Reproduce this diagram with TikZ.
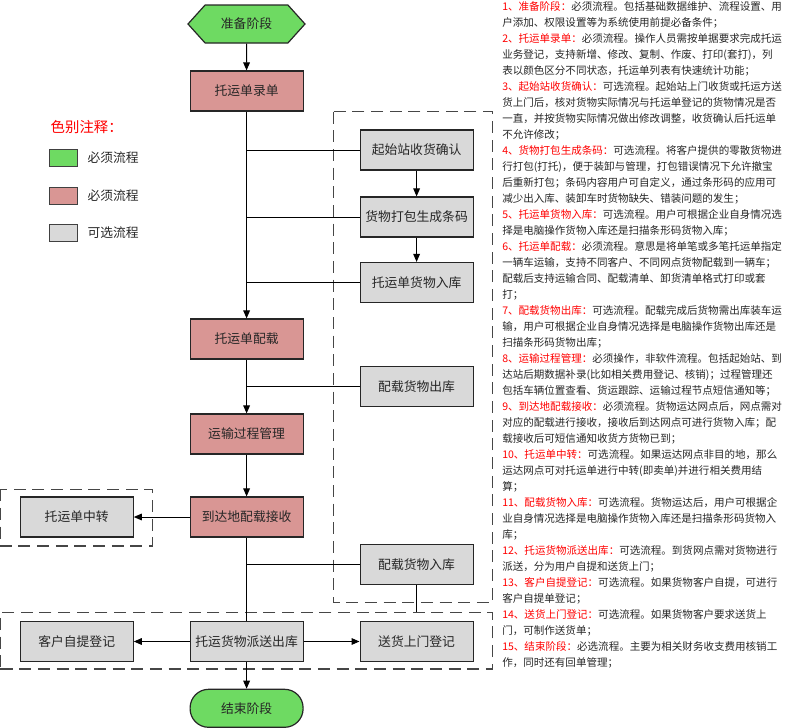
\documentclass[tikz,border=0pt]{standalone}
\usepackage{fontspec}
\setmainfont{Noto Sans CJK SC}
\usetikzlibrary{shapes.symbols,arrows.meta}

\definecolor{mustgreen}{RGB}{110,218,98}
\definecolor{mustred}{RGB}{217,150,148}
\definecolor{optgray}{RGB}{217,217,217}
\definecolor{notered}{RGB}{255,0,0}
\definecolor{dashgray}{RGB}{70,70,70}
\newcommand{\notehead}[1]{\textcolor{notered}{#1}}

\begin{document}
\begin{tikzpicture}[x=0.75pt,y=0.75pt,yscale=-1,xscale=1,
  every node/.style={font=\fontsize{9.6}{11}\selectfont, text=black!85},
  box/.style={draw=black!85, line width=0.9pt, minimum width=84.75pt, minimum height=30pt, inner sep=0pt},
  mustbox/.style={box, fill=mustred},
  optbox/.style={box, fill=optgray},
  flow/.style={draw=black, line width=0.75pt},
  arr/.style={flow, -{Triangle[length=6pt,width=5pt]}},
  group/.style={draw=dashgray, line width=0.9pt, dash pattern=on 9pt off 5pt},
  keybox/.style={draw=black!75, line width=0.75pt, minimum width=21.3pt, minimum height=12.75pt, inner sep=0pt},
]
%uncomment if require: \path (0,728); %set diagram left start at 0, and has height of 728
\useasboundingbox (0,0) rectangle (786,728);

%Shape: Dashed Rectangle (optional steps on the right)
\draw [group] (333.3,111.7) rectangle (492.5,602.7) ;
%Shape: Dashed Rectangle (transfer)
\draw [group] (0.5,489.3) rectangle (152.3,546) ;
%Shape: Dashed Rectangle (dispatch row)
\node [group, minimum width=369pt, minimum height=42.2pt] (grpdisp) at (246.5,640.9) {};

%Shape: Hexagon
\node [shape=signal, signal to=east and west, signal pointer angle=96, draw=black!85, line width=0.9pt, fill=mustgreen, minimum width=87.75pt, minimum height=28.5pt, inner sep=0pt] (start) at (246.5,24) {准备阶段};
%Shape: Rectangle
\node [mustbox] (entry) at (246.6,91) {托运单录单};
\node [optbox] (pickup) at (416.6,150) {起始站收货确认};
\node [optbox] (pack) at (416.6,217) {货物打包生成条码};
\node [optbox] (stockin) at (416.6,282.5) {托运单货物入库};
\node [mustbox] (load) at (246.6,339) {托运单配载};
\node [optbox] (loadout) at (416.6,386.3) {配载货物出库};
\node [mustbox] (transport) at (246.6,434) {运输过程管理};
\node [mustbox] (receive) at (246.6,517) {到达地配载接收};
\node [optbox] (transfer) at (76.7,517) {托运单中转};
\node [optbox] (loadin) at (416.6,564.2) {配载货物入库};
\node [optbox] (dispatch) at (246.6,641.5) {托运货物派送出库};
\node [optbox] (selfpick) at (76.7,641.5) {客户自提登记};
\node [optbox] (delivery) at (416.6,641.5) {送货上门登记};
%Shape: Rounded Rectangle
\node [box, fill=mustgreen, rounded corners=13.9pt, minimum height=28.5pt] (finish) at (246.6,708.3) {结束阶段};

%Straight Lines
\draw [arr] (start) -- (entry) ;
\draw [arr] (entry) -- (load) ;
\draw [flow] (entry.south |- pickup.west) -- (pickup.west) ;
\draw [flow] (entry.south |- pack.west) -- (pack.west) ;
\draw [flow] (entry.south |- stockin.west) -- (stockin.west) ;
\draw [arr] (pickup) -- (pack) ;
\draw [arr] (pack) -- (stockin) ;
\draw [arr] (load) -- (transport) ;
\draw [flow] (load.south |- loadout.west) -- (loadout.west) ;
\draw [arr] (transport) -- (receive) ;
\draw [arr] (receive) -- (transfer) ;
\draw [flow] (receive) -- (dispatch) ;
\draw [flow] (receive.south |- loadin.west) -- (loadin.west) ;
\draw [flow] (loadin) -- (loadin.south |- grpdisp.north) ;
\draw [arr] (dispatch) -- (selfpick) ;
\draw [arr] (dispatch) -- (delivery) ;
\draw [arr] (dispatch) -- (finish) ;

% Text Node (colour key)
\node [anchor=west, text=notered, font=\fontsize{10.8}{12}\selectfont] (keytitle) at (46,127) {色别注释：};
\node [keybox, fill=mustgreen] (keygreen) at (63.5,157.5) {};
\node [anchor=west] at ([xshift=3.5pt]keygreen.east) {必须流程};
\node [keybox, fill=mustred] (keyred) at (63.5,195.5) {};
\node [anchor=west] at ([xshift=3.5pt]keyred.east) {必须流程};
\node [keybox, fill=optgray] (keygray) at (63.5,233) {};
\node [anchor=west] at ([xshift=3.5pt]keygray.east) {可选流程};

% Text Node (notes)
\node [anchor=north west, inner sep=0pt, align=left, font=\fontsize{7.9}{12}\selectfont] (notes) at (502,1) {%
\notehead{1、准备阶段：}必须流程。包括基础数据维护、流程设置、用\\
户添加、权限设置等为系统使用前提必备条件；\\
\notehead{2、托运单录单：}必须流程。操作人员需按单据要求完成托运\\
业务登记，支持新增、修改、复制、作废、打印(套打)，列\\
表以颜色区分不同状态，托运单列表有快速统计功能；\\
\notehead{3、起始站收货确认：}可选流程。起始站上门收货或托运方送\\
货上门后，核对货物实际情况与托运单登记的货物情况是否\\
一直，并按货物实际情况做出修改调整，收货确认后托运单\\
不允许修改；\\
\notehead{4、货物打包生成条码：}可选流程。将客户提供的零散货物进\\
行打包(打托)，便于装卸与管理，打包错误情况下允许撤宝\\
后重新打包；条码内容用户可自定义，通过条形码的应用可\\
减少出入库、装卸车时货物缺失、错装问题的发生；\\
\notehead{5、托运单货物入库：}可选流程。用户可根据企业自身情况选\\
择是电脑操作货物入库还是扫描条形码货物入库；\\
\notehead{6、托运单配载：}必须流程。意思是将单笔或多笔托运单指定\\
一辆车运输，支持不同客户、不同网点货物配载到一辆车；\\
配载后支持运输合同、配载清单、卸货清单格式打印或套\\
打；\\
\notehead{7、配载货物出库：}可选流程。配载完成后货物需出库装车运\\
输，用户可根据企业自身情况选择是电脑操作货物出库还是\\
扫描条形码货物出库；\\
\notehead{8、运输过程管理：}必须操作，非软件流程。包括起始站、到\\
达站后期数据补录(比如相关费用登记、核销)；过程管理还\\
包括车辆位置查看、货运跟踪、运输过程节点短信通知等；\\
\notehead{9、到达地配载接收：}必须流程。货物运达网点后，网点需对\\
对应的配载进行接收，接收后到达网点可进行货物入库；配\\
载接收后可短信通知收货方货物已到；\\
\notehead{10、托运单中转：}可选流程。如果运达网点非目的地，那么\\
运达网点可对托运单进行中转(即卖单)并进行相关费用结\\
算；\\
\notehead{11、配载货物入库：}可选流程。货物运达后，用户可根据企\\
业自身情况选择是电脑操作货物入库还是扫描条形码货物入\\
库；\\
\notehead{12、托运货物派送出库：}可选流程。到货网点需对货物进行\\
派送，分为用户自提和送货上门；\\
\notehead{13、客户自提登记：}可选流程。如果货物客户自提，可进行\\
客户自提单登记；\\
\notehead{14、送货上门登记：}可选流程。如果货物客户要求送货上\\
门，可制作送货单；\\
\notehead{15、结束阶段：}必选流程。主要为相关财务收支费用核销工\\
作，同时还有回单管理；};

\end{tikzpicture}
\end{document}
